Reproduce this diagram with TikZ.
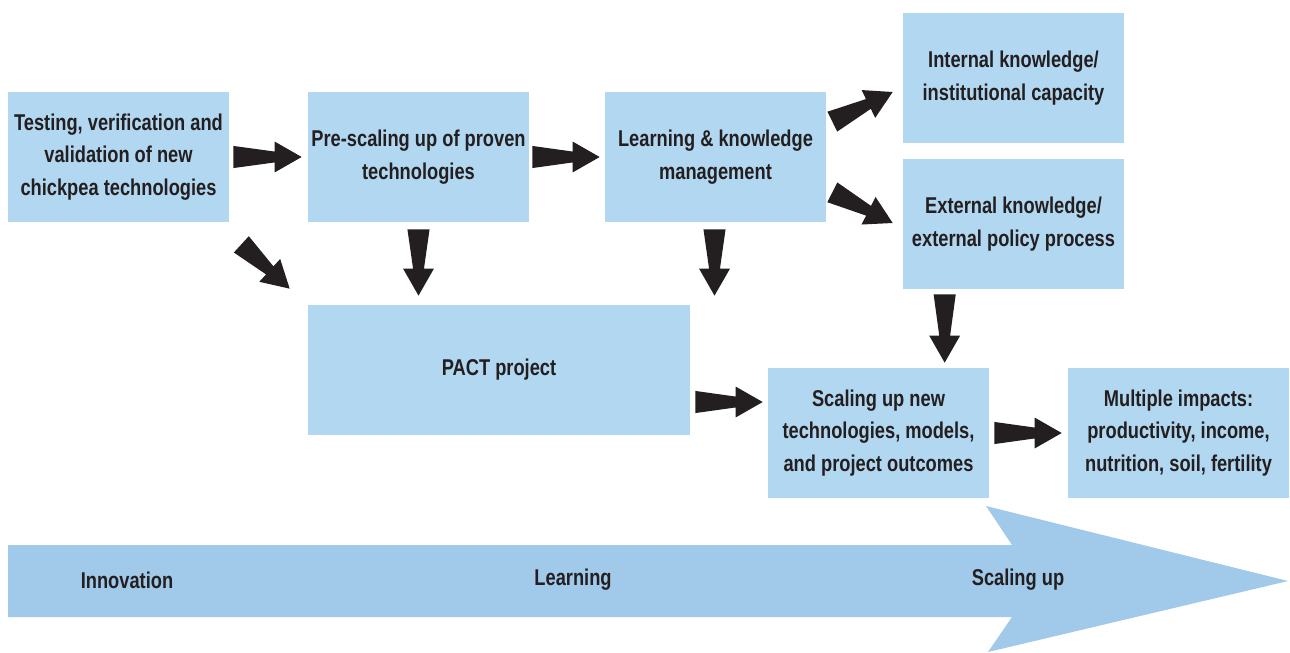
\documentclass[tikz,border=0pt]{standalone}
\usepackage{fontspec}
\setmainfont{Liberation Sans}[FakeStretch=0.8]
\usetikzlibrary{calc}
\definecolor{boxblue}{RGB}{178,215,240}
\definecolor{bandblue}{RGB}{160,201,234}
\definecolor{ink}{RGB}{35,31,32}
\tikzset{
    stage/.style={
        rectangle,
        fill=boxblue,
        draw=none,
        inner sep=0pt,
        minimum width=#1,
        minimum height=2.6cm,
        align=center,
        text=ink,
        font=\bfseries\fontsize{13}{18.5}\selectfont
    },
    stage/.default={4.42cm},
    phase/.style={
        text=ink,
        font=\bfseries\fontsize{13}{18.5}\selectfont
    }
}
% fat black arrow with a tapered shaft, from #1 to #2
\newcommand{\fatarrow}[2]{%
    \path (#1) coordinate (fa-s) (#2) coordinate (fa-t);
    \coordinate (fa-n) at ($(fa-t)!15.4pt!(fa-s)$);
    \fill[ink] ($(fa-s)!6.3pt!90:(fa-t)$) -- ($(fa-n)!3.1pt!90:(fa-t)$)
        -- ($(fa-n)!8.8pt!90:(fa-t)$) -- (fa-t)
        -- ($(fa-n)!8.8pt!-90:(fa-t)$) -- ($(fa-n)!3.1pt!-90:(fa-t)$)
        -- ($(fa-s)!6.3pt!-90:(fa-t)$) -- cycle;
}

\begin{document}
\begin{tikzpicture}[x=0.02cm, y=-0.02cm]
    \useasboundingbox (0,0) rectangle (1290,652);

    % big band arrow
    \fill[bandblue] (8,545) -- (1012,545) -- (986,506) -- (1288,581)
        -- (988,652) -- (1012,617) -- (8,617) -- cycle;
    \node[phase] (innov) at (127,580) {Innovation};
    \node[phase] (learning) at (573,580) {Learning};
    \node[phase] (scalingup) at (1018,580) {Scaling up};

    % boxes
    \node[stage] (test) at (118.5,157) {Testing, verification and\\validation of new\\chickpea technologies};
    \node[stage] (prescale) at (418.5,157) {Pre-scaling up of proven\\technologies};
    \node[stage] (learn) at (715.5,157) {Learning \& knowledge\\management};
    \node[stage] (internal) at (1013.5,78) {Internal knowledge/\\institutional capacity};
    \node[stage] (external) at (1013.5,224) {External knowledge/\\external policy process};
    \node[stage=7.64cm] (pact) at (499,370) {PACT project};
    \node[stage] (scaling) at (878.5,433) {Scaling up new\\technologies, models,\\and project outcomes};
    \node[stage] (impacts) at (1178.5,433) {Multiple impacts:\\productivity, income,\\nutrition, soil, fertility};

    % arrows
    \fatarrow{$(test.east)+(4,0)$}{$(prescale.west)+(-6,0)$}
    \fatarrow{$(prescale.east)+(3,0)$}{$(learn.west)+(-5,0)$}
    \fatarrow{$(test.south east)+(12,22)$}{$(pact.north west)+(-18,-16)$}
    \fatarrow{$(prescale.south)+(0,7)$}{$(prescale.south |- pact.north)+(0,-9)$}
    \fatarrow{$(learn.south)+(-1,7)$}{$(learn.south |- pact.north)+(-1,-9)$}
    \fatarrow{$(learn.north east)+(6,30)$}{$(internal.west)+(-10,14)$}
    \fatarrow{$(learn.south east)+(6,-30)$}{$(external.west)+(-10,-1)$}
    \fatarrow{$(external.south west)+(42,5)$}{$(external.south west |- scaling.north)+(42,-5)$}
    \fatarrow{$(pact.east)+(5,32)$}{$(scaling.west |- pact.east)+(-5,32)$}
    \fatarrow{$(scaling.east)+(5,0)$}{$(impacts.west)+(-6,0)$}
\end{tikzpicture}
\end{document}
